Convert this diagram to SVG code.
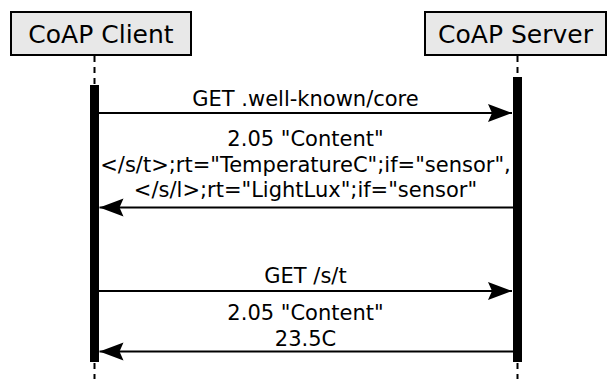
<svg xmlns="http://www.w3.org/2000/svg" width="611" height="379" viewBox="0 0 611 379">
  <style>
    .box { fill: #e8e8e8; stroke: #000; stroke-width: 2; }
    .title { font-family: "DejaVu Sans", sans-serif; font-size: 25px; text-anchor: middle; fill: #000; }
    .lbl { font-family: "DejaVu Sans", sans-serif; font-size: 21px; text-anchor: middle; fill: #000; }
    .life { stroke: #000; stroke-width: 2; stroke-dasharray: 6 5; fill: none; }
    .act { fill: #000; }
    .msg { stroke: #000; stroke-width: 2; fill: none; marker-end: url(#ah); }
  </style>
  <defs>
    <marker id="ah" markerUnits="userSpaceOnUse" markerWidth="26" markerHeight="20" viewBox="0 0 26 20" refX="24" refY="10" orient="auto">
      <path d="M0,1 L24,10 L0,19 L4,10 Z" fill="#000"/>
    </marker>
  </defs>
  <rect width="611" height="379" fill="#fff"/>
  <g id="client">
    <rect class="box" x="11" y="12" width="180" height="43"/>
    <text class="title" x="101" y="43">CoAP Client</text>
    <line class="life" x1="94.5" y1="56" x2="94.5" y2="85"/>
    <rect class="act" x="90" y="85" width="9" height="277"/>
    <line class="life" x1="94.5" y1="363" x2="94.5" y2="379"/>
  </g>
  <g id="server">
    <rect class="box" x="425" y="12" width="181" height="43"/>
    <text class="title" x="515.5" y="43">CoAP Server</text>
    <line class="life" x1="517.5" y1="56" x2="517.5" y2="77"/>
    <rect class="act" x="513" y="77" width="9" height="285"/>
    <line class="life" x1="517.5" y1="363" x2="517.5" y2="379"/>
  </g>
  <g id="connectors">
    <line class="msg" x1="99" y1="113" x2="512" y2="113"/>
    <text class="lbl" x="305.5" y="106">GET .well-known/core</text>
    <line class="msg" x1="513" y1="207.5" x2="99.5" y2="207.5"/>
    <text class="lbl" x="305.5" y="146">2.05 "Content"</text>
    <text class="lbl" x="305.5" y="172">&lt;/s/t&gt;;rt="TemperatureC";if="sensor",</text>
    <text class="lbl" x="305.5" y="197">&lt;/s/l&gt;;rt="LightLux";if="sensor"</text>
    <line class="msg" x1="99" y1="291" x2="512" y2="291"/>
    <text class="lbl" x="305.5" y="283">GET /s/t</text>
    <line class="msg" x1="513" y1="351.5" x2="99.5" y2="351.5"/>
    <text class="lbl" x="305.5" y="320">2.05 "Content"</text>
    <text class="lbl" x="305.5" y="346">23.5C</text>
  </g>
</svg>
